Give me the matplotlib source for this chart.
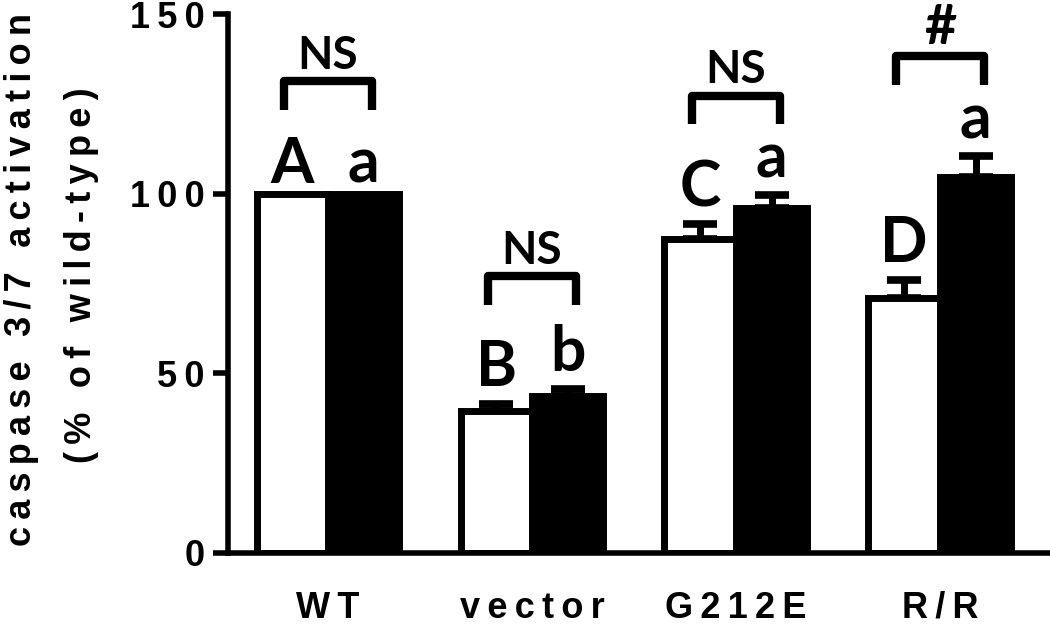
import numpy as np
import matplotlib
matplotlib.use("Agg")
import matplotlib.pyplot as plt

# data
groups = ["WT", "vector", "G212E", "R/R"]
white_vals = [100.0, 39.5, 87.3, 71.1]
white_err = [0.0, 2.1, 4.2, 4.8]
black_vals = [100.0, 43.6, 96.1, 104.6]
black_err = [0.0, 2.1, 3.5, 5.8]
white_letters = ["A", "B", "C", "D"]
black_letters = ["a", "b", "a", "a"]
bracket_marks = ["NS", "NS", "NS", "#"]
bracket_y = [131.3, 77.0, 127.3, 138.2]
yticks = [0, 50, 100, 150]


def spaced(s):
    # fake letter spacing with thin spaces
    return "\u2009".join(list(s))


W, H = 1050, 627
fig = plt.figure(figsize=(W / 100, H / 100), dpi=100)
ax = fig.add_axes([228 / W, 1 - 553 / H, 1 - 228 / W, (553 - 14) / H])

lab_font = ["Liberation Sans", "DejaVu Sans"]
mark_font = "Lato"
fs = 26

bw = 0.35
x = np.arange(len(groups))
xw = x - bw / 2
xb = x + bw / 2

ax.bar(xw, white_vals, width=bw, color="white", edgecolor="black", linewidth=5, zorder=2)
ax.bar(xb, black_vals, width=bw, color="black", edgecolor="black", linewidth=5, zorder=2)

for xs, vals, errs in [(xw, white_vals, white_err), (xb, black_vals, black_err)]:
    for xi, v, e in zip(xs, vals, errs):
        if e > 0:
            ax.errorbar([xi], [v], yerr=[[0], [e]], fmt="none", ecolor="black",
                        elinewidth=5, capsize=12, capthick=5.5, zorder=1)

# group letters above the bars
for xs, vals, errs, letters in [(xw, white_vals, white_err, white_letters),
                                (xb, black_vals, black_err, black_letters)]:
    for xi, v, e, t in zip(xs, vals, errs, letters):
        gap = 5 if e > 0 else 3
        ax.text(xi, v + e + gap, t, ha="center", va="baseline", fontsize=45,
                fontweight="bold", family=mark_font, clip_on=False)

# brackets between white / black of each group
leg = 8
for xi, yb, m in zip(x, bracket_y, bracket_marks):
    x0, x1 = xi - 0.215, xi + 0.215
    ax.plot([x0, x0, x1, x1], [yb - leg, yb, yb, yb - leg], color="black", lw=6,
            solid_joinstyle="round", solid_capstyle="butt", clip_on=False)
    ax.text(xi, yb + 3.5, m, ha="center", va="baseline",
            fontsize=40 if m == "#" else 33,
            fontweight="bold", family=mark_font, clip_on=False)

ax.set_xlim(-0.49, 3.54)
ax.set_ylim(0, 150)
ax.spines["top"].set_visible(False)
ax.spines["right"].set_visible(False)
ax.spines["left"].set_linewidth(4)
ax.spines["bottom"].set_linewidth(4)

ax.set_yticks(yticks)
ax.set_yticklabels([spaced(str(t)) for t in yticks], fontsize=fs, fontweight="bold",
                   family=lab_font)
ax.tick_params(axis="y", length=11, width=4, pad=6)
ax.set_xticks(x)
ax.set_xticklabels([spaced(g) for g in groups], fontsize=fs, fontweight="bold",
                   family=lab_font)
ax.tick_params(axis="x", length=0, pad=27)

fig.text(22 / W, 1 - 280 / H, spaced("caspase 3/7 activation"), rotation=90,
         ha="center", va="center", fontsize=fs, fontweight="bold", family=lab_font)
fig.text(82 / W, 1 - 275 / H, spaced("(% of wild-type)"), rotation=90,
         ha="center", va="center", fontsize=fs, fontweight="bold", family=lab_font)

fig.savefig("out.png", dpi=100)
